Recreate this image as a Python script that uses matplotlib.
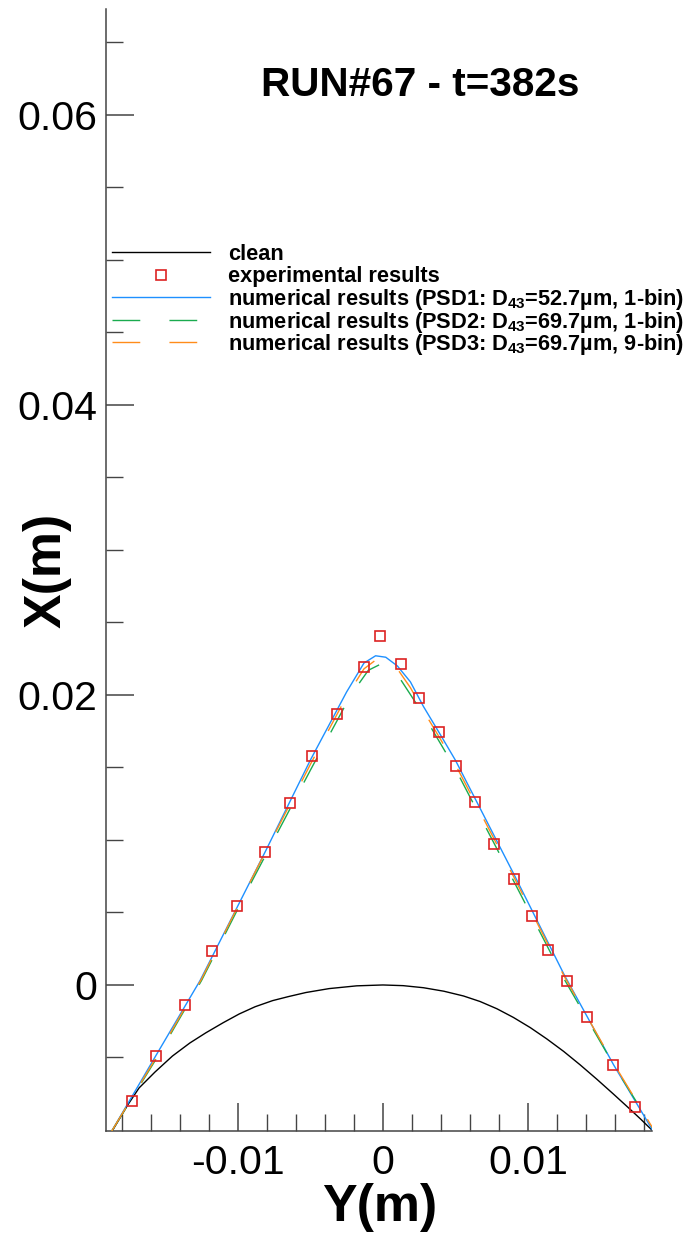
import matplotlib
matplotlib.use("Agg")
import matplotlib.pyplot as plt
from matplotlib.lines import Line2D
from matplotlib.ticker import FixedLocator, FuncFormatter

# ---------- data ----------
# clean leading edge profile (Y, X)
clean_y = [-0.0190, -0.01864, -0.0176, -0.0168, -0.0157, -0.0145, -0.0133, -0.0122, -0.0110,
           -0.0099, -0.0088, -0.0076, -0.0065, -0.0053, -0.0037, -0.0018,
           0.0, 0.0014, 0.0028, 0.0042, 0.00556, 0.0067, 0.00786, 0.0090, 0.01016,
           0.0113, 0.01246, 0.0136, 0.01476, 0.0159, 0.01706, 0.0178, 0.01855, 0.0190]
clean_x = [-0.0107, -0.01005, -0.0083, -0.0071, -0.0060, -0.0049, -0.0040, -0.0033, -0.0026,
           -0.0020, -0.0015, -0.00108, -0.0008, -0.00052, -0.00025, -0.00006,
           0.0, -0.000047, -0.00019, -0.00043, -0.00076, -0.00114, -0.00164, -0.00224, -0.00294,
           -0.00372, -0.00458, -0.00551, -0.00651, -0.00753, -0.00859, -0.00928, -0.01001, -0.0105]

# experimental ice shape
exp_y = [-0.01729, -0.01561, -0.01366, -0.01175, -0.01005, -0.00812, -0.00637, -0.00490,
         -0.00315, -0.00127, -0.00017, 0.00124, 0.00252, 0.00388, 0.00506, 0.00634,
         0.00768, 0.00903, 0.01025, 0.01135, 0.01271, 0.01409, 0.01583, 0.01740]
exp_x = [-0.00798, -0.00488, -0.00138, 0.00232, 0.00543, 0.00917, 0.01257, 0.01579,
         0.01869, 0.02193, 0.02405, 0.02212, 0.01977, 0.01745, 0.01510, 0.01262,
         0.00974, 0.00729, 0.00476, 0.00243, 0.00026, -0.00221, -0.00554, -0.00843]

# numerical, PSD1 (1-bin)
psd1_y = [-0.0187, -0.0156, -0.0126, -0.00805, -0.0050, -0.0025, -0.0013, -0.0005, 0.0002,
          0.0010, 0.0019, 0.0028, 0.0040, 0.0050, 0.0090, 0.0125, 0.0159, 0.0187]
psd1_x = [-0.0101, -0.0048, 0.0003, 0.0093, 0.0155, 0.0202, 0.0222, 0.0227, 0.0226,
          0.0220, 0.0209, 0.0192, 0.0172, 0.0155, 0.0077, 0.0007, -0.0055, -0.0102]

# numerical, PSD2 (1-bin)
psd2_y = [-0.0187, -0.0155, -0.0125, -0.0090, -0.0050, -0.0022, -0.0010, -0.0002, 0.0005,
          0.0012, 0.0027, 0.0040, 0.0050, 0.0090, 0.0125, 0.0159, 0.0188]
psd2_x = [-0.0101, -0.0049, 0.0003, 0.0072, 0.0148, 0.0200, 0.0217, 0.0221, 0.0220,
          0.0211, 0.0188, 0.0166, 0.0149, 0.0072, 0.0004, -0.0055, -0.0102]

# numerical, PSD3 (9-bin)
psd3_y = [-0.0187, -0.0155, -0.0125, -0.0090, -0.0050, -0.0025, -0.0013, -0.0005, 0.0002,
          0.0010, 0.0019, 0.0028, 0.0040, 0.0050, 0.0090, 0.0125, 0.0159, 0.0188]
psd3_x = [-0.0101, -0.0048, 0.0004, 0.0074, 0.0152, 0.0199, 0.0218, 0.0224, 0.0224,
          0.0218, 0.0205, 0.0189, 0.0169, 0.0152, 0.0075, 0.0006, -0.0054, -0.0102]

labels = ["clean", "experimental results",
          "numerical results (PSD1: D$_{43}$=52.7µm, 1-bin)",
          "numerical results (PSD2: D$_{43}$=69.7µm, 1-bin)",
          "numerical results (PSD3: D$_{43}$=69.7µm, 9-bin)"]

yticks_major = [-0.01, 0.0, 0.01]
yticks_minor = [-0.018, -0.016, -0.014, -0.012, -0.008, -0.006, -0.004, -0.002,
                0.002, 0.004, 0.006, 0.008, 0.012, 0.014, 0.016, 0.018]
xticks_major = [0.0, 0.02, 0.04, 0.06]
xticks_minor = [-0.005, 0.005, 0.01, 0.015, 0.025, 0.03, 0.035, 0.045, 0.05, 0.055, 0.065]

# ---------- style ----------
plt.rcParams["font.family"] = ["Liberation Sans", "DejaVu Sans"]
plt.rcParams["axes.unicode_minus"] = False
plt.rcParams["mathtext.fontset"] = "custom"
plt.rcParams["mathtext.rm"] = "Liberation Sans:bold"
plt.rcParams["mathtext.it"] = "Liberation Sans:bold:italic"
plt.rcParams["mathtext.bf"] = "Liberation Sans:bold"

BLUE = "#1e90ff"
GREEN = "#1aab4f"
ORANGE = "#ff8c1a"
RED = "#dd2222"
AXC = "#444444"

W, H = 685, 1237
fig = plt.figure(figsize=(W / 100, H / 100), dpi=100)
ax = fig.add_axes([106 / W, 1 - 1131 / H, 546 / W, 1122 / H])

# Y(m) is horizontal, X(m) is vertical
ax.plot(clean_y, clean_x, color="black", lw=1.0, zorder=2)
ax.plot(psd1_y, psd1_x, color=BLUE, lw=1.0, zorder=3)
ax.plot(psd2_y, psd2_x, color=GREEN, lw=1.0, dashes=(20, 21), zorder=4)
ax.plot(psd3_y, psd3_x, color=ORANGE, lw=1.0, dashes=(20, 21), zorder=5)
ax.plot(exp_y, exp_x, ls="none", marker="s", ms=7.5, mfc="none", mec=RED, mew=1.2, zorder=6)

ax.set_xlim(-0.01908, 0.01855)
ax.set_ylim(-0.01007, 0.0673)

for s in ("top", "right"):
    ax.spines[s].set_visible(False)
for s in ("left", "bottom"):
    ax.spines[s].set_color(AXC)
    ax.spines[s].set_linewidth(1.1)

ax.xaxis.set_major_locator(FixedLocator(yticks_major))
ax.xaxis.set_minor_locator(FixedLocator(yticks_minor))
ax.yaxis.set_major_locator(FixedLocator(xticks_major))
ax.yaxis.set_minor_locator(FixedLocator(xticks_minor))
fmt = FuncFormatter(lambda v, p: f"{round(v, 4):g}" if abs(v) > 1e-12 else "0")
ax.xaxis.set_major_formatter(fmt)
ax.yaxis.set_major_formatter(fmt)

ax.tick_params(which="both", direction="in", color=AXC, labelsize=29.5)
ax.tick_params(which="major", length=20, width=1.1)
ax.tick_params(which="minor", length=12, width=1.0)
ax.tick_params(axis="x", pad=9)
ax.tick_params(axis="y", pad=6.5)

# axis labels and title
fig.text(380 / W, 1 - 1221 / H, "Y(m)", fontsize=37.4, fontweight="bold", ha="center", va="baseline")
fig.text(47 / W, 1 - 570 / H, "X(m)", fontsize=37.4, fontweight="bold", rotation=90,
         ha="center", va="center")
fig.text(420 / W, 1 - 95.5 / H, "RUN#67 - t=382s", fontsize=29.2, fontweight="bold",
         ha="center", va="baseline")

# legend drawn by hand (no frame)
rows = [252, 274.5, 297, 319.5, 342]
styles = [dict(color="black", lw=1.0),
          dict(ls="none", marker="s", ms=7.5, mfc="none", mec=RED, mew=1.2),
          dict(color=BLUE, lw=1.0),
          dict(color=GREEN, lw=1.0, dashes=(20, 21)),
          dict(color=ORANGE, lw=1.0, dashes=(20, 21))]
for py, lab, st in zip(rows, labels, styles):
    fy = 1 - py / H
    if st.get("marker"):
        fig.add_artist(Line2D([161 / W], [fy], transform=fig.transFigure, **st))
    else:
        fig.add_artist(Line2D([112 / W, 210 / W], [fy, fy], transform=fig.transFigure, **st))
    fig.text(228 / W, 1 - (py + 8) / H, lab, fontsize=15.7, fontweight="bold",
             ha="left", va="baseline")

fig.savefig("out.png", dpi=100)
